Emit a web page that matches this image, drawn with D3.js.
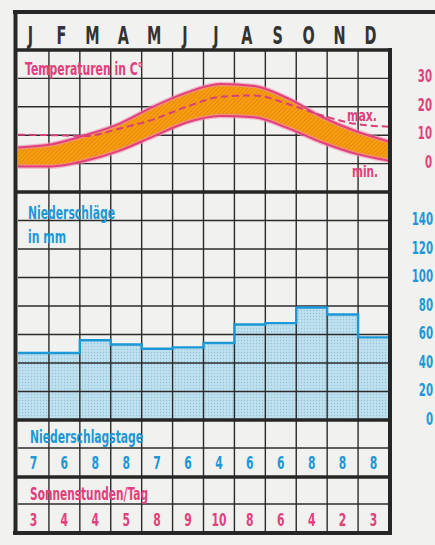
<!DOCTYPE html>
<html>
<head>
<meta charset="utf-8">
<script src="https://cdn.jsdelivr.net/npm/d3@7"></script>
<style>
body { margin: 0; background: #f1f1ef; }
text { font-family: "DejaVu Sans", "Liberation Sans", sans-serif; font-weight: bold; }
</style>
</head>
<body>
<div id="chart"></div>
<script>
// monthly climate data
var months = ["J", "F", "M", "A", "M", "J", "J", "A", "S", "O", "N", "D"];
var tempMax = [5.7, 6.8, 10, 14, 20, 25, 28, 27.3, 23, 16.5, 11.5, 7.8];
var tempMin = [-1, -1, 1, 4.5, 9.5, 14.5, 16.8, 16.3, 12.5, 7.5, 3.5, 1];
var tempDashed = [10.2, 10, 9.7, 12.3, 15.5, 20, 23.5, 24, 21, 17, 14, 13];
var rain = [47, 47, 56, 53, 50, 51, 54, 67, 68, 79, 74, 58];
var rainDays = [7, 6, 8, 8, 7, 6, 4, 6, 6, 8, 8, 8];
var sunHours = [3, 4, 4, 5, 8, 9, 10, 8, 6, 4, 2, 3];
var tempTicks = [0, 10, 20, 30];
var rainTicks = [0, 20, 40, 60, 80, 100, 120, 140];

var W = 435, H = 545;
var left = 18, right = 389;
var top0 = 12, headBottom = 50, tempBottom = 192, rainBottom = 420, daysMid = 448, daysBottom = 477, sunMid = 504, bottom = 533;
var pink = "#e2407c", blue = "#1c98d6", ink = "#2b2b2b";
var narrow = 0.6; // horizontal squeeze to imitate the condensed print type

var svg = d3.select("#chart").append("svg")
    .attr("width", W)
    .attr("height", H)
    .style("display", "block");

var defs = svg.append("defs");
var hatch = defs.append("pattern")
    .attr("id", "hatch")
    .attr("patternUnits", "userSpaceOnUse")
    .attr("width", 3).attr("height", 3)
    .attr("patternTransform", "rotate(45)");
hatch.append("rect").attr("width", 3).attr("height", 3).attr("fill", "#f6a010");
hatch.append("line").attr("x1", 0).attr("y1", 0).attr("x2", 0).attr("y2", 3)
    .attr("stroke", "#e06a0c").attr("stroke-width", 1);
var dots = defs.append("pattern")
    .attr("id", "dots")
    .attr("patternUnits", "userSpaceOnUse")
    .attr("width", 3).attr("height", 3);
dots.append("rect").attr("width", 3).attr("height", 3).attr("fill", "#c0e0ee");
dots.append("circle").attr("cx", 1.5).attr("cy", 1.5).attr("r", 0.7).attr("fill", "#8ec6e0");
defs.append("clipPath").attr("id", "tempClip")
    .append("rect").attr("x", left).attr("y", headBottom).attr("width", right - left).attr("height", tempBottom - headBottom);

var idx = d3.range(12);
var x = d3.scaleBand().domain(idx).range([left, right]);
var xp = d3.scalePoint().domain(idx).range([left, right]);
var yT = d3.scaleLinear().domain([-10, 40]).range([tempBottom, headBottom]);
var yR = d3.scaleLinear().domain([0, 160]).range([rainBottom, tempBottom]);

function squeeze(px, py, sx) {
    return "translate(" + px + "," + py + ") scale(" + (sx || narrow) + ",1)";
}

// month header
svg.selectAll("text.month")
    .data(months).enter()
    .append("text")
    .attr("class", "month")
    .attr("transform", function (d, i) { return squeeze(x(i) + x.bandwidth() / 2 - 3, 44, 0.6); })
    .attr("text-anchor", "middle")
    .style("font-size", "24px")
    .style("fill", "#333")
    .text(function (d) { return d; });

// precipitation area + step line
var steps = [];
rain.forEach(function (v, i) {
    steps.push([x(i), v]);
    steps.push([x(i) + x.bandwidth(), v]);
});
svg.append("path")
    .datum(steps)
    .attr("d", d3.area().x(function (d) { return d[0]; }).y0(yR(0)).y1(function (d) { return yR(d[1]); }))
    .attr("fill", "url(#dots)");

// grid
var grid = svg.append("g").attr("stroke", ink).attr("stroke-width", 1.4);
grid.selectAll("line.v")
    .data(d3.range(1, 12)).enter()
    .append("line")
    .attr("x1", function (d) { return x(d); })
    .attr("x2", function (d) { return x(d); })
    .attr("y1", headBottom).attr("y2", bottom);
grid.selectAll("line.ht")
    .data(tempTicks).enter()
    .append("line")
    .attr("x1", left).attr("x2", right)
    .attr("y1", function (d) { return yT(d); })
    .attr("y2", function (d) { return yT(d); });
grid.selectAll("line.hr")
    .data(rainTicks.slice(1)).enter()
    .append("line")
    .attr("x1", left).attr("x2", right)
    .attr("y1", function (d) { return yR(d); })
    .attr("y2", function (d) { return yR(d); });
grid.selectAll("line.mid")
    .data([daysMid, sunMid]).enter()
    .append("line")
    .attr("x1", left).attr("x2", right)
    .attr("y1", function (d) { return d; })
    .attr("y2", function (d) { return d; });

svg.append("path")
    .datum(steps)
    .attr("d", d3.line().x(function (d) { return d[0]; }).y(function (d) { return yR(d[1]); }))
    .attr("fill", "none")
    .attr("stroke", blue)
    .attr("stroke-width", 2.4);

// temperature band
var tg = svg.append("g").attr("clip-path", "url(#tempClip)");
var curve = d3.curveMonotoneX;
tg.append("path")
    .datum(idx)
    .attr("d", d3.area().curve(curve)
        .x(function (i) { return xp(i); })
        .y0(function (i) { return yT(tempMin[i]); })
        .y1(function (i) { return yT(tempMax[i]); }))
    .attr("fill", "url(#hatch)");
[tempMax, tempMin].forEach(function (arr) {
    var ln = d3.line().curve(curve).x(function (d, i) { return xp(i); }).y(function (d) { return yT(d); });
    tg.append("path").datum(arr).attr("d", ln)
        .attr("fill", "none").attr("stroke", "#f08fb0").attr("stroke-width", 4.5).attr("opacity", 0.6);
    tg.append("path").datum(arr).attr("d", ln)
        .attr("fill", "none").attr("stroke", pink).attr("stroke-width", 2);
});
tg.append("path")
    .datum(tempDashed)
    .attr("d", d3.line().curve(curve).x(function (d, i) { return xp(i); }).y(function (d) { return yT(d); }))
    .attr("fill", "none")
    .attr("stroke", "#d8407a")
    .attr("stroke-width", 2)
    .attr("stroke-dasharray", "7,4");

// frame and separators
var frame = svg.append("g").attr("stroke", "#262626");
frame.append("line").attr("x1", 13).attr("x2", W).attr("y1", top0).attr("y2", top0).attr("stroke-width", 4);
frame.append("line").attr("x1", 15.5).attr("x2", 15.5).attr("y1", top0 - 2).attr("y2", bottom + 2).attr("stroke-width", 4);
frame.append("line").attr("x1", 390).attr("x2", 390).attr("y1", headBottom - 2).attr("y2", bottom + 2).attr("stroke-width", 4);
frame.append("line").attr("x1", 13).attr("x2", 392).attr("y1", bottom).attr("y2", bottom).attr("stroke-width", 4);
frame.selectAll("line.sep")
    .data([headBottom, tempBottom, rainBottom, daysBottom]).enter()
    .append("line")
    .attr("x1", 14).attr("x2", 392)
    .attr("y1", function (d) { return d; })
    .attr("y2", function (d) { return d; })
    .attr("stroke-width", 3.5);

// panel titles, fitted to the printed widths
function label(txt, xx, yy, len, col, size) {
    svg.append("text").attr("x", xx).attr("y", yy)
        .attr("textLength", len).attr("lengthAdjust", "spacingAndGlyphs")
        .style("font-size", (size || 17) + "px").style("fill", col).text(txt);
}
label("Temperaturen in C°", 25, 75, 118, pink);
label("Niederschläge", 28, 219, 87, blue);
label("in mm", 28, 243, 38, blue);
label("Niederschlagstage", 30, 443, 113, blue);
label("Sonnenstunden/Tag", 30, 500, 118, pink);
label("max.", 347, 121, 30, pink, 16);
label("min.", 352, 177, 26, pink, 16);

// row values
svg.selectAll("text.days")
    .data(rainDays).enter()
    .append("text")
    .attr("transform", function (d, i) { return squeeze(x(i) + x.bandwidth() / 2, 469); })
    .attr("text-anchor", "middle")
    .style("font-size", "18px").style("fill", blue)
    .text(function (d) { return d; });
svg.selectAll("text.sun")
    .data(sunHours).enter()
    .append("text")
    .attr("transform", function (d, i) { return squeeze(x(i) + x.bandwidth() / 2, 526); })
    .attr("text-anchor", "middle")
    .style("font-size", "18px").style("fill", pink)
    .text(function (d) { return d; });

// right-hand scales
svg.selectAll("text.tt")
    .data(tempTicks).enter()
    .append("text")
    .attr("transform", function (d) { return squeeze(432, yT(d) - 2); })
    .attr("dy", "0.35em")
    .attr("text-anchor", "end")
    .style("font-size", "17px").style("fill", pink)
    .text(function (d) { return d; });
svg.selectAll("text.rt")
    .data(rainTicks).enter()
    .append("text")
    .attr("transform", function (d) { return squeeze(433, yR(d) - 1); })
    .attr("dy", "0.35em")
    .attr("text-anchor", "end")
    .style("font-size", "17px").style("fill", blue)
    .text(function (d) { return d; });
</script>
</body>
</html>
